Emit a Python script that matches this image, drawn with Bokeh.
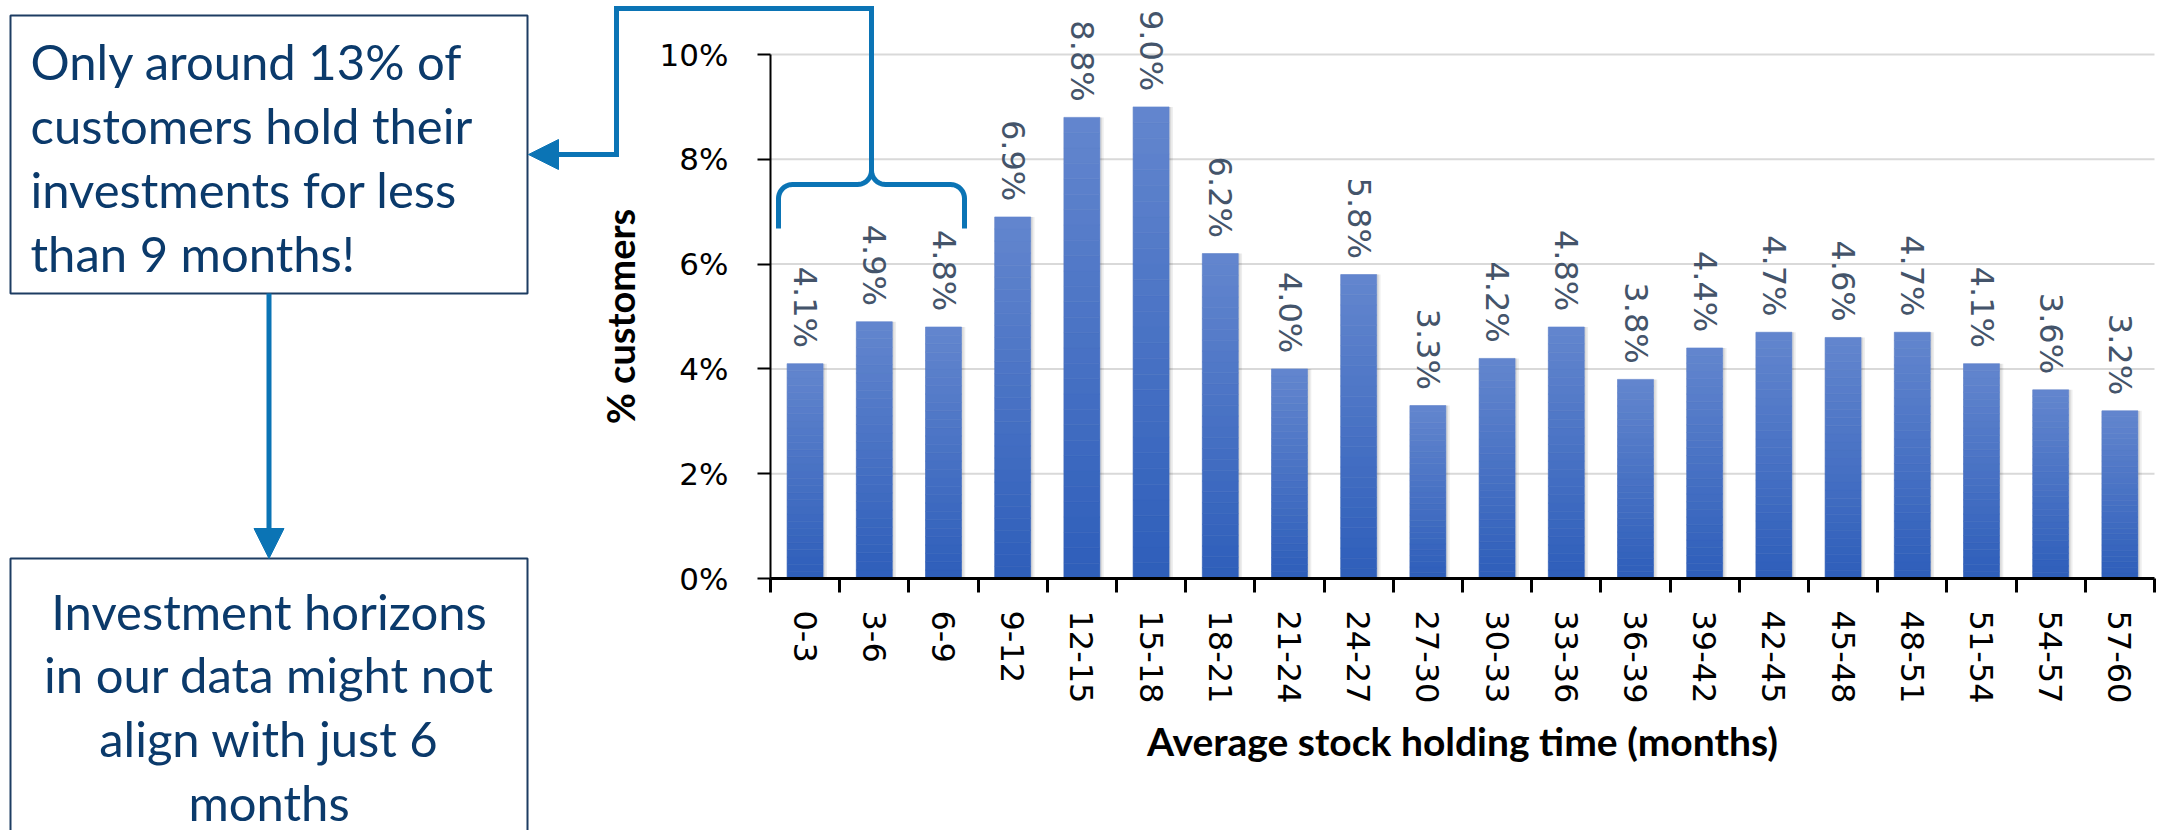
import math
from bokeh.plotting import figure
from bokeh.models import (Range1d, FixedTicker, CustomJSTickFormatter, PrintfTickFormatter,
                          Arrow, NormalHead, Label, ColumnDataSource)
from bokeh.core.properties import value
from bokeh.embed import file_html
from bokeh.resources import INLINE

# ---------------- data ----------------
categories = ["0-3", "3-6", "6-9", "9-12", "12-15", "15-18", "18-21", "21-24", "24-27", "27-30",
              "30-33", "33-36", "36-39", "39-42", "42-45", "45-48", "48-51", "51-54", "54-57", "57-60"]
share_pct = [4.1, 4.9, 4.8, 6.9, 8.8, 9.0, 6.2, 4.0, 5.8, 3.3,
             4.2, 4.8, 3.8, 4.4, 4.7, 4.6, 4.7, 4.1, 3.6, 3.2]
y_ticks = [0, 2, 4, 6, 8, 10]
y_max = 10
x_title = "Average stock holding time (months)"
y_title = "% customers"
note_top = ["Only around 13% of", "customers hold their", "investments for less", "than 9 months!"]
note_bottom = ["Investment horizons", "in our data might not", "align with just 6", "months"]

# ---------------- styles / layout ----------------
BAR_TOP = (99, 134, 206)
BAR_BOT = (46, 94, 186)
LABEL_COLOR = "#44546a"
NOTE_COLOR = "#0b3a6b"
BOX_COLOR = "#1d3c62"
ARROW_COLOR = "#0b74b5"

W, H = 2157, 830
PL, PR = 770, 2154      # pixel x of plot area left / right
PT, PB = 54, 578        # pixel y of y_max / zero

n = len(categories)
ux = (PR - PL) / n
uy = (PB - PT) / y_max

p = figure(width=W, height=H,
           x_range=Range1d(-PL / ux, n + (W - PR) / ux),
           y_range=Range1d(-(H - PB) / uy, y_max + PT / uy),
           output_backend="svg", toolbar_location=None, min_border=0)
p.title.visible = False
p.outline_line_color = None
p.background_fill_color = "white"
p.border_fill_color = "white"
p.xgrid.visible = False
p.ygrid.visible = False

# pixel ranges for the annotations (y downwards)
p.extra_x_ranges = {"px": Range1d(0, W)}
p.extra_y_ranges = {"px": Range1d(H, 0)}

centers = [i + 0.5 for i in range(n)]

# grid lines
p.segment(x0=[0] * len(y_ticks), x1=[n] * len(y_ticks), y0=y_ticks, y1=y_ticks,
          line_color="#d9d9d9", line_width=2, level="underlay")

# soft shadow
p.vbar(x=[c + 0.025 for c in centers], top=share_pct, width=0.58, fill_color="black",
       fill_alpha=0.07, line_color=None)
p.vbar(x=[c + 0.015 for c in centers], top=share_pct, width=0.55, fill_color="black",
       fill_alpha=0.08, line_color=None)

# gradient bars (stacked thin segments of each value)
N = 30
xs, bots, tops, cols = [], [], [], []
for c, v in zip(centers, share_pct):
    for k in range(N):
        t = (k + 0.5) / N
        rgb = tuple(int(round(BAR_BOT[j] + (BAR_TOP[j] - BAR_BOT[j]) * t)) for j in range(3))
        xs.append(c)
        bots.append(v * k / N)
        tops.append(v * (k + 1) / N)
        cols.append("#%02x%02x%02x" % rgb)
seg = ColumnDataSource(dict(x=xs, bottom=bots, top=tops, color=cols))
p.vbar(x="x", bottom="bottom", top="top", width=0.52, fill_color="color", line_color="color",
       line_width=0.6, source=seg)

# data labels
p.text(x=centers, y=[v + 0.3 for v in share_pct], text=["%.1f%%" % v for v in share_pct],
       angle=-math.pi / 2, text_align="right", text_baseline="middle",
       text_font=value("DejaVu Sans"), text_font_size="32px", text_color=LABEL_COLOR)

# y axis
ya = p.yaxis[0]
ya.fixed_location = 0
ya.bounds = (0, y_max)
ya.ticker = FixedTicker(ticks=y_ticks, minor_ticks=[])
ya.formatter = PrintfTickFormatter(format="%d%%")
ya.axis_line_color = "black"
ya.axis_line_width = 2
ya.major_tick_line_color = "black"
ya.major_tick_line_width = 2
ya.major_tick_out = 13
ya.major_tick_in = 0
ya.minor_tick_line_color = None
ya.major_label_text_font = "DejaVu Sans"
ya.major_label_text_font_size = "31px"
ya.major_label_text_color = "black"
ya.major_label_standoff = 29
ya.axis_label = y_title
ya.axis_label_text_font = "Lato"
ya.axis_label_text_font_style = "bold"
ya.axis_label_text_font_size = "38px"
ya.axis_label_text_color = "black"
ya.axis_label_standoff = 14

# x axis: labels at centres, tick marks at category boundaries
xa = p.xaxis[0]
xa.fixed_location = 0
xa.bounds = (0, n)
xa.ticker = FixedTicker(ticks=centers, minor_ticks=list(range(n + 1)))
xa.formatter = CustomJSTickFormatter(args=dict(cats=categories),
                                     code="return cats[Math.floor(tick)] || '';")
xa.axis_line_color = "black"
xa.axis_line_width = 3
xa.major_tick_line_color = None
xa.major_tick_out = 14
xa.major_tick_in = 0
xa.minor_tick_line_color = "black"
xa.minor_tick_line_width = 3
xa.minor_tick_out = 14
xa.minor_tick_in = 0
xa.major_label_orientation = -math.pi / 2
xa.major_label_text_font = "DejaVu Sans"
xa.major_label_text_font_size = "32px"
xa.major_label_text_color = "black"
xa.major_label_standoff = 18
xa.axis_label = x_title
xa.axis_label_text_font = "Lato"
xa.axis_label_text_font_style = "bold"
xa.axis_label_text_font_size = "39px"
xa.axis_label_text_color = "black"
xa.axis_label_standoff = 12

# ---------------- annotations (pixel coordinates) ----------------
ann = dict(x_range_name="px", y_range_name="px")

p.quad(left=[10, 10], right=[527, 527], top=[15, 558], bottom=[293, 845],
       fill_color=None, line_color=BOX_COLOR, line_width=2, **ann)

for i, line in enumerate(note_top):
    p.add_layout(Label(x=30, y=60 + i * 64.3, text=line, text_font="Lato", text_font_size="49px",
                       text_color=NOTE_COLOR, text_align="left", text_baseline="alphabetic", **ann))
for i, line in enumerate(note_bottom):
    p.add_layout(Label(x=268.5, y=610 + i * 63.7, text=line, text_font="Lato", text_font_size="49px",
                       text_color=NOTE_COLOR, text_align="center", text_baseline="alphabetic", **ann))

def seg_arrow(x0, y0, x1, y1, head=False):
    end = NormalHead(size=30, fill_color=ARROW_COLOR, line_color=ARROW_COLOR, line_width=1) if head else None
    p.add_layout(Arrow(x_start=x0, y_start=y0, x_end=x1, y_end=y1, end=end,
                       line_color=ARROW_COLOR, line_width=5,
                       line_cap="butt" if head else "square", **ann))

seg_arrow(871, 145, 871, 8)
seg_arrow(871, 8, 616, 8)
seg_arrow(616, 8, 616, 154)
seg_arrow(616, 154, 528, 154, head=True)
seg_arrow(268.5, 293, 268.5, 558, head=True)

# curly brace over the first three bars
def arc(cx, cy, r, a0, a1, k_n=10):
    return [(cx + r * math.cos(a0 + (a1 - a0) * k / k_n), cy + r * math.sin(a0 + (a1 - a0) * k / k_n))
            for k in range(k_n + 1)]

pts = [(778, 228), (778, 198)]
pts += arc(792, 198, 14, math.pi, 1.5 * math.pi)
pts += [(857, 184)]
pts += arc(857, 170, 14, 0.5 * math.pi, 0.0)
pts += [(871, 142)]
pts2 = [(871, 142), (871, 170)]
pts2 += arc(885, 170, 14, math.pi, 0.5 * math.pi)
pts2 += [(950, 184)]
pts2 += arc(950, 198, 14, 1.5 * math.pi, 2.0 * math.pi)
pts2 += [(964, 228)]
for path in (pts, pts2):
    p.line(x=[q[0] for q in path], y=[q[1] for q in path], line_color=ARROW_COLOR, line_width=5,
           line_join="round", line_cap="butt", **ann)

open("out.html", "w").write(file_html(p, INLINE))
